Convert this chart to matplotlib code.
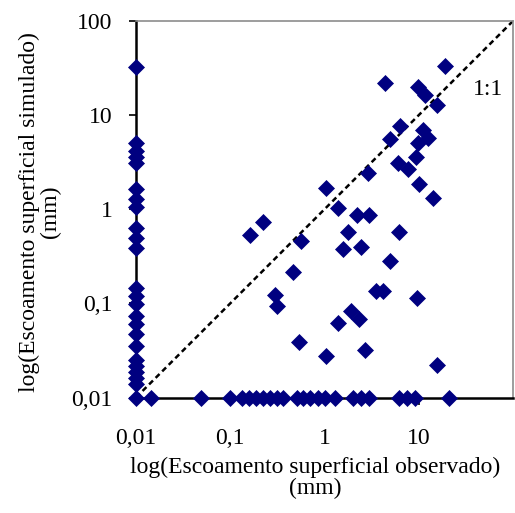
import matplotlib
matplotlib.use("Agg")
import matplotlib.pyplot as plt

plt.rcParams['font.family'] = ['Liberation Serif', 'DejaVu Serif']

# simulated runoff where observed is zero (plotted at 0,01 on the x axis)
sim_only = [32.8, 5.1, 4.19, 3.62, 3.13, 1.65, 1.29, 1.06, 0.63, 0.50, 0.39,
            0.146, 0.12, 0.099, 0.074, 0.060, 0.047, 0.035, 0.025, 0.0216,
            0.0186, 0.0161, 0.0139, 0.01]

# observed runoff where simulated is zero (plotted at 0,01 on the y axis)
obs_only = [0.0144, 0.049, 0.1, 0.134, 0.159, 0.189, 0.225, 0.267, 0.316,
            0.366, 0.516, 0.598, 0.71, 0.843, 1.0, 1.28, 1.99, 2.41, 2.94,
            6.12, 7.45, 9.06, 20.8]

# both observed and simulated non-zero
obs = [2.92, 1.04, 1.38, 2.20, 2.97, 6.10, 0.224, 0.162, 0.563, 1.76, 1.58,
       2.44, 4.95, 0.46, 3.52, 4.15, 9.66, 0.30, 0.316, 1.91, 2.34, 1.38,
       0.533, 1.04, 2.69, 15.5, 18.8, 4.38, 9.75, 11.65, 15.6, 6.32, 11.2,
       12.6, 4.95, 9.7, 9.24, 6.07, 7.69, 10.1, 14.3]
sim = [2.43, 1.68, 1.03, 0.86, 0.86, 0.58, 0.74, 0.535, 0.462, 0.567, 0.38,
       0.40, 0.285, 0.215, 0.134, 0.134, 0.115, 0.123, 0.094, 0.084, 0.069,
       0.0625, 0.0387, 0.0279, 0.032, 0.0222, 33.6, 22.0, 19.95, 16.3, 12.7,
       7.73, 6.89, 5.72, 5.58, 5.10, 3.57, 3.10, 2.68, 1.85, 1.33]

ticks = [0.01, 0.1, 1, 10, 100]
tick_labels = ['0,01', '0,1', '1', '10', '100']

x_all = [0.01] * len(sim_only) + obs_only + obs
y_all = sim_only + [0.01] * len(obs_only) + sim

fig = plt.figure(figsize=(5.15, 5.13), dpi=100)
ax = fig.add_axes([136 / 515, 1 - 397.5 / 513, 377 / 515, 376.5 / 513])

ax.set_xscale('log')
ax.set_yscale('log')
ax.set_xlim(0.01, 100)
ax.set_ylim(0.01, 100)

# 1:1 line
ax.plot([0.01, 100], [0.01, 100], color='black', lw=1.8, ls=(0, (2.2, 1.5)), zorder=2)
ax.text(0.934, 0.817, '1:1', transform=ax.transAxes, fontsize=17, ha='center', va='center')

ax.plot(x_all, y_all, ls='none', marker='D', ms=8.5, color='#000080',
        mec='#000080', mew=0.5, clip_on=False, zorder=3)

ax.set_xticks(ticks[:4], tick_labels[:4])
ax.set_yticks(ticks, tick_labels)
ax.minorticks_off()
ax.tick_params(axis='both', direction='out', length=5, width=1.2, labelsize=17)
ax.tick_params(axis='x', pad=17)
ax.tick_params(axis='y', pad=12)

for side in ['left', 'bottom']:
    ax.spines[side].set_color('black')
    ax.spines[side].set_linewidth(1.8)
for side in ['top', 'right']:
    ax.spines[side].set_color('#8c8c8c')
    ax.spines[side].set_linewidth(1.2)

fig.text(315 / 515, 1 - 478 / 513, 'log(Escoamento superficial observado)\n(mm)',
         ha='center', va='center', fontsize=17, multialignment='center', linespacing=1.0)
fig.text(40 / 515, 1 - 212 / 513, 'log(Escoamento superficial simulado)\n(mm)',
         ha='center', va='center', rotation=90, fontsize=17, multialignment='center',
         linespacing=1.0)

fig.savefig('out.png', dpi=100)
